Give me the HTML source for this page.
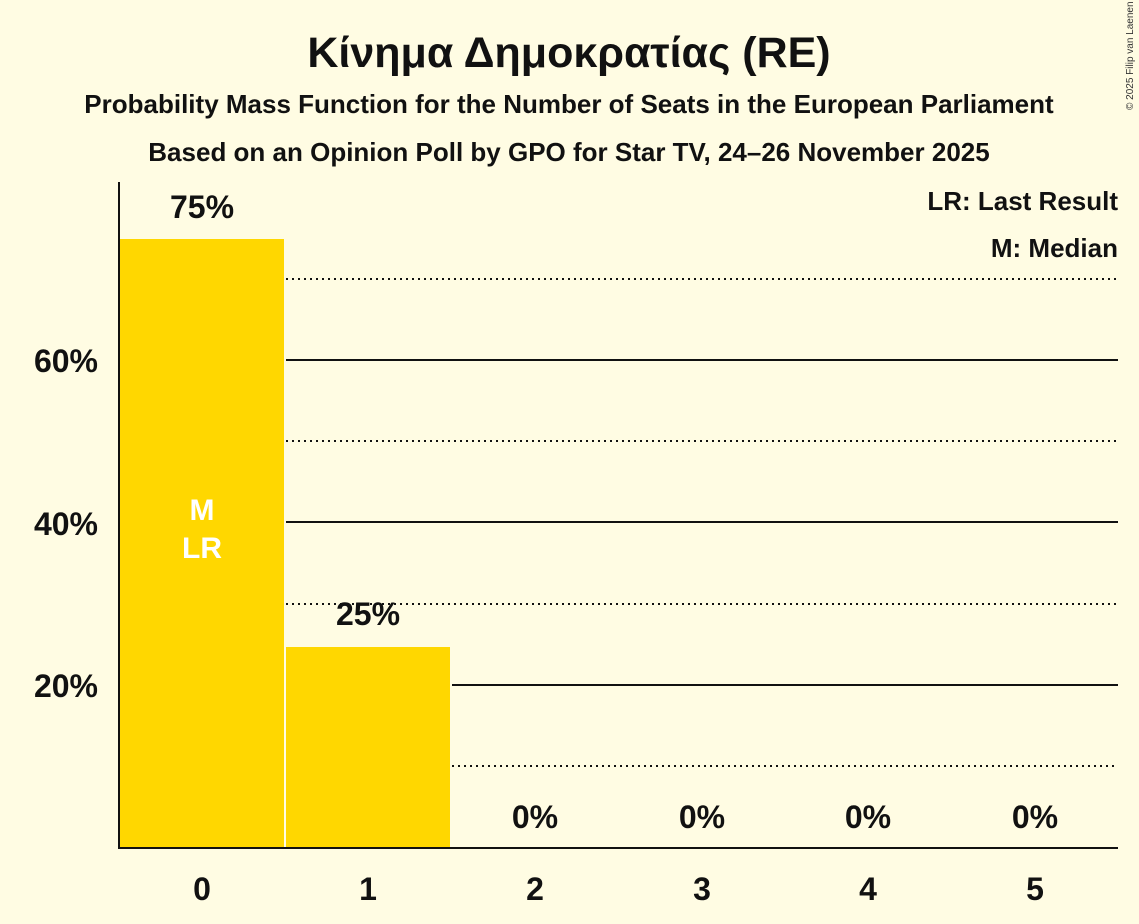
<!DOCTYPE html>
<html><head><meta charset="utf-8"><style>
body{margin:0;background:#FFFCE3;}
svg{display:block;font-family:"Liberation Sans","DejaVu Sans",sans-serif;}
</style></head><body>
<svg width="1139" height="924" viewBox="0 0 1139 924">
<rect width="1139" height="924" fill="#FFFCE3"/>
<text x="569" y="67" font-size="43" font-weight="bold" text-anchor="middle" fill="#111">Κίνημα Δημοκρατίας (RE)</text>
<text x="569" y="113" font-size="26" font-weight="bold" text-anchor="middle" fill="#111">Probability Mass Function for the Number of Seats in the European Parliament</text>
<text x="569" y="161" font-size="26" font-weight="bold" text-anchor="middle" fill="#111">Based on an Opinion Poll by GPO for Star TV, 24–26 November 2025</text>
<text x="1133" y="110" font-size="10" fill="#333" transform="rotate(-90 1133 110)">© 2025 Filip van Laenen</text>
<g stroke="#111" stroke-width="2" stroke-dasharray="2,4">
<line x1="452" y1="766" x2="1118" y2="766"/>
<line x1="286" y1="604" x2="1118" y2="604"/>
<line x1="286" y1="441" x2="1118" y2="441"/>
<line x1="286" y1="279" x2="1118" y2="279"/>
</g>
<g stroke="#111" stroke-width="2">
<line x1="452" y1="685" x2="1118" y2="685"/>
<line x1="286" y1="522" x2="1118" y2="522"/>
<line x1="286" y1="360" x2="1118" y2="360"/>
</g>
<rect x="120" y="239" width="164" height="609" fill="#FFD700"/>
<rect x="286" y="647" width="164" height="201" fill="#FFD700"/>
<line x1="119" y1="182" x2="119" y2="849" stroke="#111" stroke-width="2"/>
<line x1="118" y1="848" x2="1118" y2="848" stroke="#111" stroke-width="2"/>
<g font-size="32" font-weight="bold" fill="#111" text-anchor="end">
<text x="98" y="372">60%</text><text x="98" y="535">40%</text><text x="98" y="697">20%</text>
</g>
<g font-size="32" font-weight="bold" fill="#111" text-anchor="middle">
<text x="202" y="900">0</text><text x="368" y="900">1</text><text x="535" y="900">2</text><text x="702" y="900">3</text><text x="868" y="900">4</text><text x="1035" y="900">5</text>
<text x="202" y="218">75%</text><text x="368" y="625">25%</text>
<text x="535" y="828">0%</text><text x="702" y="828">0%</text><text x="868" y="828">0%</text><text x="1035" y="828">0%</text>
</g>
<g font-size="30" font-weight="bold" fill="#fff" text-anchor="middle">
<text x="202" y="520">M</text><text x="202" y="558">LR</text>
</g>
<g font-size="26" font-weight="bold" fill="#111" text-anchor="end">
<text x="1118" y="210">LR: Last Result</text><text x="1118" y="257">M: Median</text>
</g>
</svg>
</body></html>
